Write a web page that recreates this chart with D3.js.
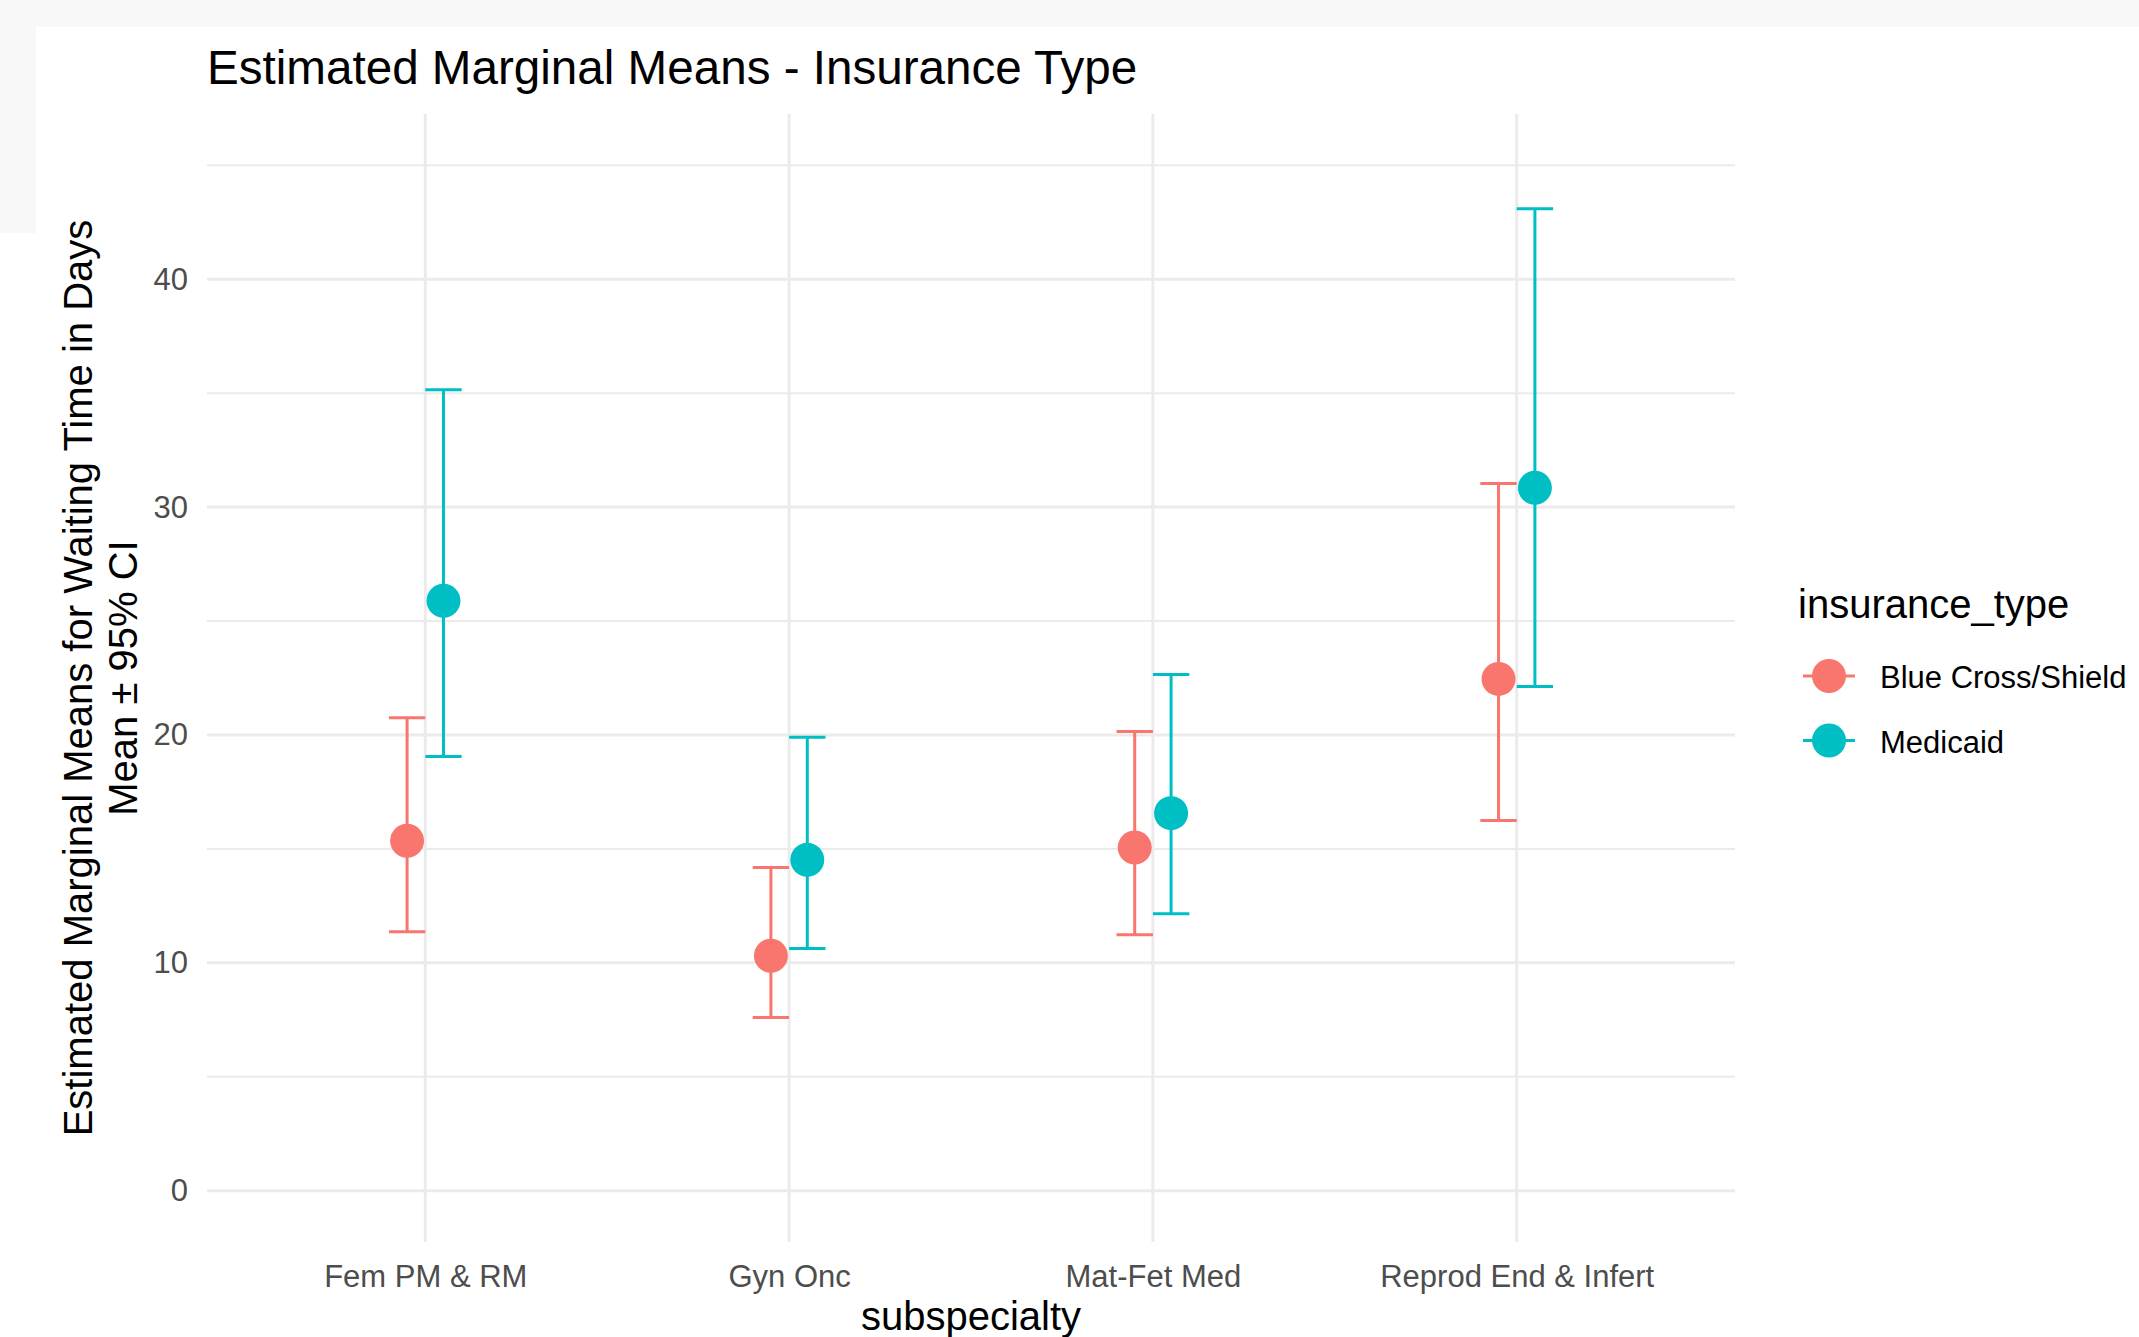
<!DOCTYPE html>
<html>
<head>
<meta charset="utf-8">
<script src="https://cdn.jsdelivr.net/npm/d3@7"></script>
<style>
  body { margin: 0; background: #ffffff; }
  svg { display: block; font-family: "Liberation Sans", Arial, sans-serif; }
</style>
</head>
<body>
<svg id="chart"></svg>
<script>
const WIDTH = 2139;
const HEIGHT = 1337;

const PANEL_LEFT = 207;
const PANEL_RIGHT = 1735;
const PANEL_TOP = 114;
const PANEL_BOTTOM = 1242;

// data
const subspecialty = ["Fem PM & RM", "Gyn Onc", "Mat-Fet Med", "Reprod End & Infert"];
const insuranceTypes = ["Blue Cross/Shield", "Medicaid"];

const blueCrossMean = [15.36, 10.31, 15.06, 22.46];
const blueCrossLower = [11.36, 7.60, 11.23, 16.25];
const blueCrossUpper = [20.76, 14.18, 20.15, 31.04];

const medicaidMean = [25.89, 14.52, 16.57, 30.85];
const medicaidLower = [19.05, 10.63, 12.15, 22.13];
const medicaidUpper = [35.15, 19.90, 22.65, 43.09];

const yMajorTicks = [0, 10, 20, 30, 40];
const yMinorTicks = [5, 15, 25, 35, 45];

const colors = ["#F8766D", "#00BFC4"];

const rows = [];
subspecialty.forEach((s, i) => {
    rows.push({ cat: s, type: insuranceTypes[0], mean: blueCrossMean[i], lo: blueCrossLower[i], hi: blueCrossUpper[i] });
    rows.push({ cat: s, type: insuranceTypes[1], mean: medicaidMean[i], lo: medicaidLower[i], hi: medicaidUpper[i] });
});

const svg = d3.select('#chart').attr('width', WIDTH).attr('height', HEIGHT);

// screenshot frame
svg.append('rect').attr('x', 0).attr('y', 0).attr('width', WIDTH).attr('height', 27).attr('fill', '#f8f8f8');
svg.append('rect').attr('x', 0).attr('y', 0).attr('width', 36).attr('height', 233).attr('fill', '#f8f8f8');

const xScale = d3.scalePoint().domain(subspecialty).range([PANEL_LEFT, PANEL_RIGHT]).padding(0.6);
const step = xScale.step();
const dodge = d3.scalePoint().domain(insuranceTypes).range([-0.05 * step, 0.05 * step]);
const capHalf = 0.05 * step;

const yScale = d3.scaleLinear().domain([-2.25, 47.25]).range([PANEL_BOTTOM, PANEL_TOP]);
const colorScale = d3.scaleOrdinal().domain(insuranceTypes).range(colors);

// grid
const grid = svg.append('g');
grid.selectAll('.minor').data(yMinorTicks).join('line')
    .attr('x1', PANEL_LEFT).attr('x2', PANEL_RIGHT)
    .attr('y1', d => yScale(d)).attr('y2', d => yScale(d))
    .attr('stroke', '#ebebeb').attr('stroke-width', 2);
grid.selectAll('.major').data(yMajorTicks).join('line')
    .attr('x1', PANEL_LEFT).attr('x2', PANEL_RIGHT)
    .attr('y1', d => yScale(d)).attr('y2', d => yScale(d))
    .attr('stroke', '#ebebeb').attr('stroke-width', 3);
grid.selectAll('.vmajor').data(subspecialty).join('line')
    .attr('x1', d => xScale(d)).attr('x2', d => xScale(d))
    .attr('y1', PANEL_TOP).attr('y2', PANEL_BOTTOM)
    .attr('stroke', '#ebebeb').attr('stroke-width', 3);

// axes
const yAxis = svg.append('g')
    .attr('transform', `translate(${PANEL_LEFT}, 0)`)
    .call(d3.axisLeft(yScale).tickValues(yMajorTicks).tickSize(0).tickPadding(19));
yAxis.select('.domain').remove();
yAxis.selectAll('text')
    .attr('font-size', 31).attr('fill', '#4d4d4d')
    .attr('font-family', '"Liberation Sans", Arial, sans-serif');

const xAxis = svg.append('g')
    .attr('transform', `translate(0, ${PANEL_BOTTOM})`)
    .call(d3.axisBottom(xScale).tickSize(0).tickPadding(23));
xAxis.select('.domain').remove();
xAxis.selectAll('text')
    .attr('font-size', 31).attr('fill', '#4d4d4d')
    .attr('font-family', '"Liberation Sans", Arial, sans-serif');

// error bars
const bars = svg.append('g').selectAll('g').data(rows).join('g')
    .attr('stroke', d => colorScale(d.type)).attr('stroke-width', 3);
bars.append('line')
    .attr('x1', d => xScale(d.cat) + dodge(d.type)).attr('x2', d => xScale(d.cat) + dodge(d.type))
    .attr('y1', d => yScale(d.lo)).attr('y2', d => yScale(d.hi));
bars.append('line')
    .attr('x1', d => xScale(d.cat) + dodge(d.type) - capHalf).attr('x2', d => xScale(d.cat) + dodge(d.type) + capHalf)
    .attr('y1', d => yScale(d.hi)).attr('y2', d => yScale(d.hi));
bars.append('line')
    .attr('x1', d => xScale(d.cat) + dodge(d.type) - capHalf).attr('x2', d => xScale(d.cat) + dodge(d.type) + capHalf)
    .attr('y1', d => yScale(d.lo)).attr('y2', d => yScale(d.lo));

// points
svg.append('g').selectAll('circle').data(rows).join('circle')
    .attr('cx', d => xScale(d.cat) + dodge(d.type))
    .attr('cy', d => yScale(d.mean))
    .attr('r', 17)
    .attr('fill', d => colorScale(d.type));

// titles
svg.append('text')
    .attr('x', PANEL_LEFT).attr('y', 84)
    .attr('font-size', 47.6).attr('fill', '#000')
    .text('Estimated Marginal Means - Insurance Type');

svg.append('text')
    .attr('x', (PANEL_LEFT + PANEL_RIGHT) / 2).attr('y', 1330)
    .attr('text-anchor', 'middle')
    .attr('font-size', 40).attr('fill', '#000')
    .text('subspecialty');

const yTitleLines = ['Estimated Marginal Means for Waiting Time in Days', 'Mean \u00b1 95% CI'];
svg.append('g').selectAll('text').data(yTitleLines).join('text')
    .attr('transform', (d, i) => `translate(${92 + i * 45}, ${(PANEL_TOP + PANEL_BOTTOM) / 2}) rotate(-90)`)
    .attr('text-anchor', 'middle')
    .attr('font-size', 40).attr('fill', '#000')
    .text(d => d);

// legend
const legend = svg.append('g').attr('transform', 'translate(1798, 0)');
legend.append('text')
    .attr('x', 0).attr('y', 618)
    .attr('font-size', 40).attr('fill', '#000')
    .text('insurance_type');

const keys = legend.selectAll('.key').data(insuranceTypes).join('g')
    .attr('class', 'key')
    .attr('transform', (d, i) => `translate(31, ${676 + i * 64.5})`);
keys.append('line')
    .attr('x1', -26).attr('x2', 26).attr('y1', 0).attr('y2', 0)
    .attr('stroke', d => colorScale(d)).attr('stroke-width', 3);
keys.append('circle')
    .attr('r', 17)
    .attr('fill', d => colorScale(d));
keys.append('text')
    .attr('x', 51).attr('y', 12)
    .attr('font-size', 31).attr('fill', '#000')
    .text(d => d);
</script>
</body>
</html>
